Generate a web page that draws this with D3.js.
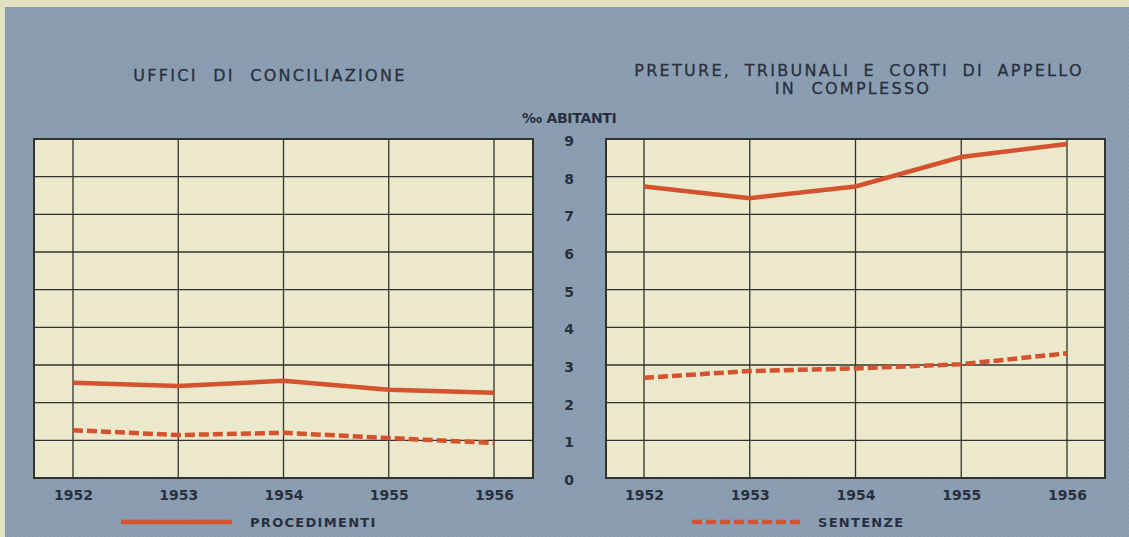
<!DOCTYPE html>
<html>
<head>
<meta charset="utf-8">
<script src="https://cdn.jsdelivr.net/npm/d3@7"></script>
<style>
  body { margin: 0; background: #e4e0c2; }
  svg text { font-family: 'DejaVu Sans', sans-serif; fill: #283040; }
</style>
</head>
<body>
<div id="chart"></div>
<script>
const years = [1952, 1953, 1954, 1955, 1956]
const yTicks = [0, 1, 2, 3, 4, 5, 6, 7, 8, 9]

// uffici di conciliazione (per mille abitanti)
const conciliazioneProcedimenti = [2.53, 2.44, 2.58, 2.34, 2.26]
const conciliazioneSentenze = [1.27, 1.14, 1.2, 1.06, 0.93]

// preture, tribunali e corti di appello
const pretureProcedimenti = [7.74, 7.43, 7.74, 8.52, 8.87]
const pretureSentenze = [2.66, 2.84, 2.91, 3.02, 3.31]

const width = 1129
const height = 537

const red = '#d4522d'
const gridColor = '#30342c'

const svg = d3
  .select('#chart')
  .append('svg')
  .attr('width', width)
  .attr('height', height)

// faint diagonal print texture
const pattern = svg
  .append('defs')
  .append('pattern')
  .attr('id', 'hatch')
  .attr('width', 3)
  .attr('height', 3)
  .attr('patternUnits', 'userSpaceOnUse')
  .attr('patternTransform', 'rotate(45)')
pattern
  .append('rect')
  .attr('width', 3)
  .attr('height', 3)
  .attr('fill', '#8d9fb2')
pattern
  .append('line')
  .attr('x1', 0)
  .attr('x2', 0)
  .attr('y1', 0)
  .attr('y2', 3)
  .attr('stroke', '#7f92a6')
  .attr('stroke-width', 1)

svg
  .append('rect')
  .attr('width', width)
  .attr('height', height)
  .attr('fill', '#e4e0c2')

svg
  .append('rect')
  .attr('x', 5)
  .attr('y', 7)
  .attr('width', width - 5)
  .attr('height', height - 7)
  .attr('fill', 'url(#hatch)')

const yPositionScale = d3.scaleLinear().domain([0, 9]).range([478, 139])

const line = d3
  .line()
  .x(d => d.x)
  .y(d => yPositionScale(d.value))

function drawPanel(xRange, pad, procedimenti, sentenze) {
  const xPositionScale = d3.scaleLinear().domain([1952, 1956]).range(xRange)
  const left = xRange[0] - pad
  const right = xRange[1] + pad

  const g = svg.append('g')

  g.append('rect')
    .attr('x', left)
    .attr('y', yPositionScale(9))
    .attr('width', right - left)
    .attr('height', yPositionScale(0) - yPositionScale(9))
    .attr('fill', '#ebe8cb')

  g.selectAll('.h-grid')
    .data(yTicks.slice(1, -1))
    .enter()
    .append('line')
    .attr('class', 'h-grid')
    .attr('x1', left)
    .attr('x2', right)
    .attr('y1', d => yPositionScale(d))
    .attr('y2', d => yPositionScale(d))
    .attr('stroke', gridColor)
    .attr('stroke-width', 1.3)

  g.selectAll('.v-grid')
    .data(years)
    .enter()
    .append('line')
    .attr('class', 'v-grid')
    .attr('x1', d => xPositionScale(d))
    .attr('x2', d => xPositionScale(d))
    .attr('y1', yPositionScale(9))
    .attr('y2', yPositionScale(0))
    .attr('stroke', gridColor)
    .attr('stroke-width', 1.3)

  g.append('rect')
    .attr('x', left)
    .attr('y', yPositionScale(9))
    .attr('width', right - left)
    .attr('height', yPositionScale(0) - yPositionScale(9))
    .attr('fill', 'none')
    .attr('stroke', gridColor)
    .attr('stroke-width', 2)

  const procPoints = years.map((y, i) => ({ x: xPositionScale(y), value: procedimenti[i] }))
  const sentPoints = years.map((y, i) => ({ x: xPositionScale(y), value: sentenze[i] }))

  g.append('path')
    .attr('d', line(procPoints))
    .attr('fill', 'none')
    .attr('stroke', red)
    .attr('stroke-width', 4.5)

  g.append('path')
    .attr('d', line(sentPoints))
    .attr('fill', 'none')
    .attr('stroke', red)
    .attr('stroke-width', 4.5)
    .attr('stroke-dasharray', '10,4')

  const xAxis = d3
    .axisBottom(xPositionScale)
    .tickValues(years)
    .tickFormat(d3.format('d'))
    .tickSize(0)
    .tickPadding(12)

  const axisG = g
    .append('g')
    .attr('class', 'axis x-axis')
    .attr('transform', 'translate(0,' + yPositionScale(0) + ')')
    .call(xAxis)
  axisG.select('.domain').remove()
  axisG
    .selectAll('text')
    .attr('font-size', 14)
    .attr('font-weight', 'bold')
    .attr('font-family', 'DejaVu Sans')
    .attr('fill', '#283040')
}

drawPanel([73, 494], 39, conciliazioneProcedimenti, conciliazioneSentenze)
drawPanel([644, 1067], 38, pretureProcedimenti, pretureSentenze)

// shared y axis between the two panels
const yAxis = d3.axisRight(yPositionScale).tickValues(yTicks).tickSize(0).tickPadding(0)
const yAxisG = svg
  .append('g')
  .attr('class', 'axis y-axis')
  .attr('transform', 'translate(569,2)')
  .call(yAxis)
yAxisG.select('.domain').remove()
yAxisG
  .selectAll('text')
  .attr('text-anchor', 'middle')
  .attr('font-size', 14)
  .attr('font-weight', 'bold')
  .attr('font-family', 'DejaVu Sans')
  .attr('fill', '#283040')

svg
  .append('text')
  .attr('x', 522)
  .attr('y', 123)
  .attr('font-size', 14)
  .attr('font-weight', 'bold')
  .attr('letter-spacing', -0.3)
  .text('‰ ABITANTI')

// titles
svg
  .append('text')
  .attr('x', 270)
  .attr('y', 81)
  .attr('text-anchor', 'middle')
  .attr('font-size', 16)
  .attr('letter-spacing', 2.3)
  .attr('word-spacing', 8)
  .attr('stroke', '#283040')
  .attr('stroke-width', 0.3)
  .text('UFFICI DI CONCILIAZIONE')

svg
  .append('text')
  .attr('x', 859)
  .attr('y', 76)
  .attr('text-anchor', 'middle')
  .attr('font-size', 16)
  .attr('letter-spacing', 2.3)
  .attr('word-spacing', 6)
  .attr('stroke', '#283040')
  .attr('stroke-width', 0.3)
  .text('PRETURE, TRIBUNALI E CORTI DI APPELLO')

svg
  .append('text')
  .attr('x', 853)
  .attr('y', 94)
  .attr('text-anchor', 'middle')
  .attr('font-size', 16)
  .attr('letter-spacing', 2.3)
  .attr('word-spacing', 8)
  .attr('stroke', '#283040')
  .attr('stroke-width', 0.3)
  .text('IN COMPLESSO')

// legend
svg
  .append('line')
  .attr('x1', 121)
  .attr('x2', 232)
  .attr('y1', 522)
  .attr('y2', 522)
  .attr('stroke', red)
  .attr('stroke-width', 4.5)

svg
  .append('text')
  .attr('x', 250)
  .attr('y', 527)
  .attr('font-size', 13)
  .attr('font-weight', 'bold')
  .attr('letter-spacing', 1.3)
  .text('PROCEDIMENTI')

svg
  .append('line')
  .attr('x1', 692)
  .attr('x2', 801)
  .attr('y1', 522)
  .attr('y2', 522)
  .attr('stroke', red)
  .attr('stroke-width', 4.5)
  .attr('stroke-dasharray', '10,4')

svg
  .append('text')
  .attr('x', 818)
  .attr('y', 527)
  .attr('font-size', 13)
  .attr('font-weight', 'bold')
  .attr('letter-spacing', 1.3)
  .text('SENTENZE')
</script>
</body>
</html>
